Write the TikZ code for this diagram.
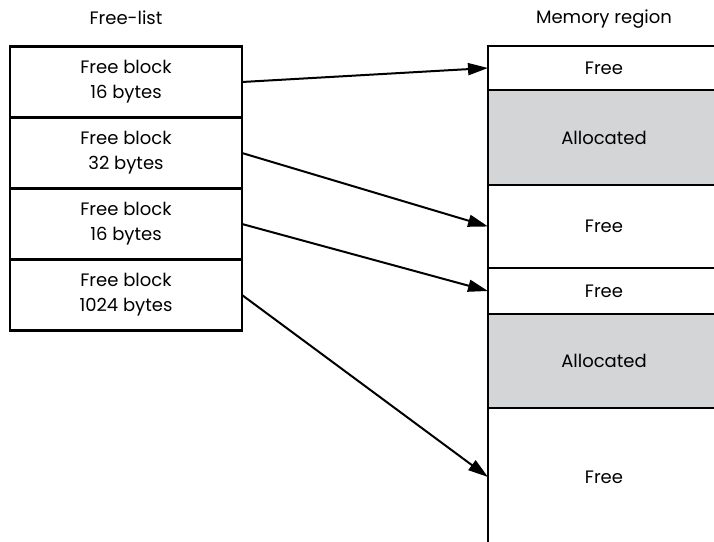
\documentclass[tikz,border=0pt]{standalone}
\usepackage{fontspec}
\setmainfont{Poppins}
\usetikzlibrary{positioning, arrows.meta}
\definecolor{allocgray}{RGB}{212,213,215}

\begin{document}
\begin{tikzpicture}[x=0.75pt, y=-0.75pt, >={Triangle[length=15pt, width=9pt]},
    font=\fontsize{13.5}{18.75}\selectfont,
    block/.style={draw, line width=2.2pt, outer sep=0pt, inner sep=0pt,
      minimum width=174pt, align=center},
    freeblock/.style={block, minimum height=53.25pt},
    cell/.style={block, minimum height=#1},
    alloc/.style={cell=#1, fill=allocgray},
    title/.style={inner sep=0pt, text depth=0pt},
    link/.style={->, line width=1.5pt}]
      \useasboundingbox (0,0) rectangle (714,542);
      \clip (0,0) rectangle (714,542);

      \node[freeblock] (fb1) at (126,82) {Free block\\16 bytes};
      \node[freeblock, below=0pt of fb1] (fb2) {Free block\\32 bytes};
      \node[freeblock, below=0pt of fb2] (fb3) {Free block\\16 bytes};
      \node[freeblock, below=0pt of fb3] (fb4) {Free block\\1024 bytes};
      \node[title, above=16.5pt of fb1] (flist) {Free-list};

      \node[cell=33pt] (m1) at (604,68) {Free};
      \node[alloc=71.25pt, below=0pt of m1] (m2) {Allocated};
      \node[cell=62.25pt, below=0pt of m2] (m3) {Free};
      \node[cell=34.5pt, below=0pt of m3] (m4) {Free};
      \node[alloc=70.5pt, below=0pt of m4] (m5) {Allocated};
      \node[cell=103.5pt, below=0pt of m5] (m6) {Free};
      \node[title, above=16.5pt of m1] (mregion) {Memory region};

      \draw[link] (fb1.east) -- (m1.west);
      \draw[link] (fb2.east) -- (m3.west);
      \draw[link] (fb3.east) -- (m4.west);
      \draw[link] (fb4.east) -- (m6.west);
    \end{tikzpicture}
\end{document}
